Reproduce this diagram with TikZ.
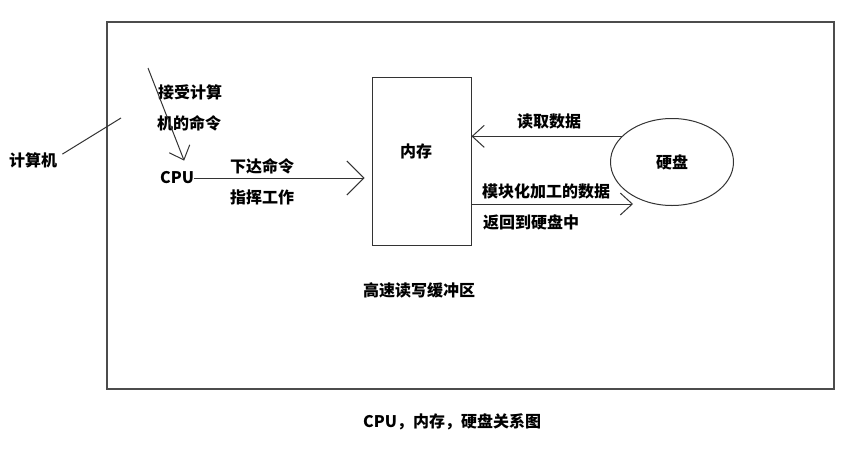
\documentclass[tikz,border=0pt]{standalone}
\usepackage{fontspec}
\setmainfont{Noto Sans CJK SC}
\usepackage{tikz}
\usetikzlibrary{arrows.meta,shapes.geometric}

\tikzset{
  txt/.style={font=\bfseries\fontsize{16}{16}\selectfont, inner sep=0pt, anchor=west},
  wire/.style={line width=1pt, draw=black!80},
  >={Straight Barb[length=12pt,width=22pt,line width=1pt]}
}

\begin{document}
\begin{tikzpicture}[x=1pt,y=-1pt]
            \useasboundingbox (0,0) rectangle (858,450);
            \draw[wire, line width=1.5pt, draw=black!70] (107,22) rectangle (834,389);

            \node[txt] (pc) at (9,160) {计算机};
            \node[txt] (cpu) at (160,178) {CPU};
            \node[wire, draw, minimum width=99pt, minimum height=168pt] (mem) at (421.5,161) {};
            \node[txt, anchor=center] (memlabel) at (416,151) {内存};
            \node[wire, draw, ellipse, minimum width=123pt, minimum height=87pt, inner sep=0pt,
                  font=\bfseries\fontsize{16}{16}\selectfont] (disk) at (672,162) {硬盘};

            \node[txt] (recv1) at (158,92) {接受计算};
            \node[txt] (recv2) at (157,123) {机的命令};
            \node[txt] (send1) at (230,166) {下达命令};
            \node[txt] (send2) at (230,197) {指挥工作};
            \node[txt] (read) at (517,121) {读取数据};
            \node[txt] (back1) at (482,191) {模块化加工的数据};
            \node[txt] (back2) at (483,222) {返回到硬盘中};
            \node[txt] (buffer) at (363,290) {高速读写缓冲区};
            \node[txt] (caption) at (363,422) {CPU，内存，硬盘关系图};

            \coordinate (pcpoint) at (121,118);
            \coordinate (cmdin) at (148,68);
            \coordinate (ret) at (633,204);

            \draw[wire] ([xshift=5pt,yshift=-2pt]pc.north east) -- (pcpoint);
            \draw[wire,->] (cmdin) -- ([xshift=7pt,yshift=11pt]cpu.north);
            \draw[wire,->,>={Straight Barb[length=17pt,width=34pt,line width=1pt]}] (cpu.east) -- ([xshift=-7pt]cpu.east -| mem.west);
            \draw[wire,->] (disk.153) -- (disk.153 -| mem.east);
            \draw[wire,->] (mem.east |- ret) -- (ret);
        \end{tikzpicture}
\end{document}
